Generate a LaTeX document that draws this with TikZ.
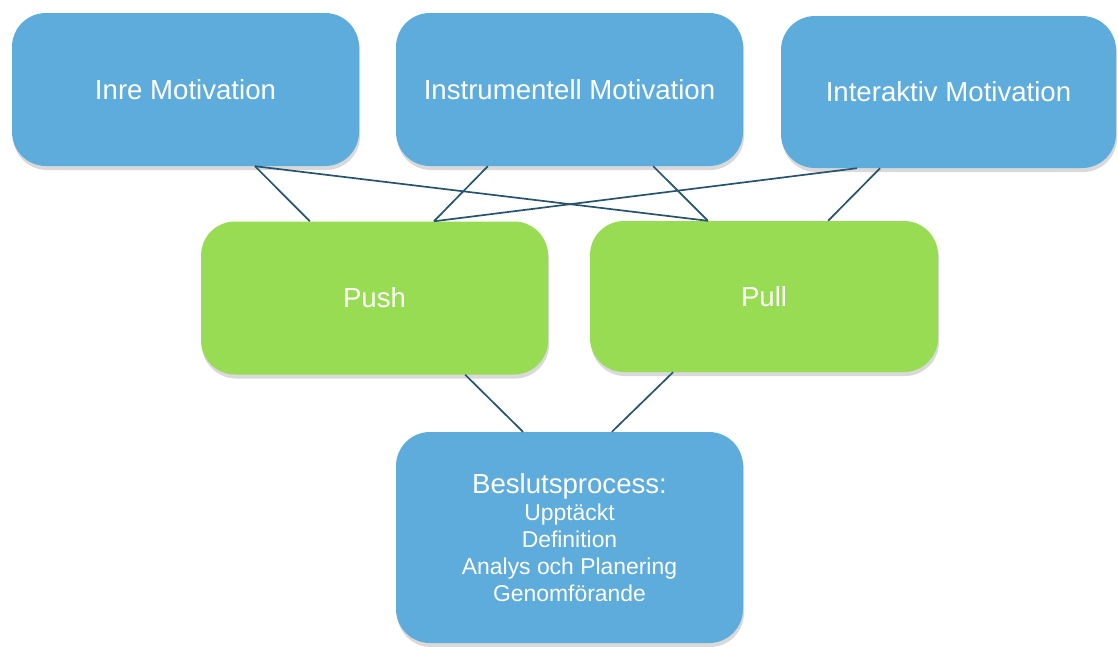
\documentclass[tikz,border=0pt]{standalone}
\usepackage{fontspec}
\setmainfont{Liberation Sans}
\usetikzlibrary{calc,shadows}
\definecolor{boxblue}{RGB}{93,172,220}
\definecolor{boxgreen}{RGB}{152,220,84}
\definecolor{linkcol}{RGB}{38,84,112}
\tikzset{
  mbox/.style={rectangle, rounded corners=34pt, fill=boxblue, text=white,
    minimum width=347pt, minimum height=153pt, inner sep=0pt, align=center,
    font=\fontsize{27.6}{33}\selectfont,
    drop shadow={shadow xshift=1pt, shadow yshift=-4pt, opacity=0.3}},
  gbox/.style={mbox, fill=boxgreen},
  link/.style={draw=linkcol, line width=1.7pt}
}
\begin{document}
\begin{tikzpicture}[x=1pt,y=-1pt]
\useasboundingbox (0,0) rectangle (1118,646);
% motivation
\node [mbox] (inre) at (185.5,89.5) {Inre Motivation};
\node [mbox] (instr) at (569.5,89.5) {Instrumentell Motivation};
\node [mbox, minimum width=335pt, minimum height=152pt] (inter) at (948.5,92) {Interaktiv Motivation};
% push / pull
\node [gbox] (push) at (374.5,298) {Push};
\node [gbox, minimum width=348pt, minimum height=151pt] (pull) at (764,296.5) {Pull};
% beslut
\node [mbox, minimum height=211pt, font=\fontsize{22.9}{27}\selectfont] (beslut) at (569.5,537.5)
  {{\fontsize{27.6}{27}\selectfont Beslutsprocess:}\\Upptäckt\\Definition\\Analys och Planering\\Genomförande};
% links
\draw [link] ($(inre.south west)!0.70!(inre.south east)$) -- ($(push.north west)!0.314!(push.north east)$);
\draw [link] ($(inre.south west)!0.70!(inre.south east)$) -- ($(pull.north west)!0.339!(pull.north east)$);
\draw [link] ($(instr.south west)!0.265!(instr.south east)$) -- ($(push.north west)!0.671!(push.north east)$);
\draw [link] ($(instr.south west)!0.741!(instr.south east)$) -- ($(pull.north west)!0.339!(pull.north east)$);
\draw [link] ($(inter.south west)!0.227!(inter.south east)$) -- ($(push.north west)!0.671!(push.north east)$);
\draw [link] ($(inter.south west)!0.296!(inter.south east)$) -- ($(pull.north west)!0.684!(pull.north east)$);
\draw [link] ($(push.south west)!0.761!(push.south east)$) -- ($(beslut.north west)!0.366!(beslut.north east)$);
\draw [link] ($(pull.south west)!0.239!(pull.south east)$) -- ($(beslut.north west)!0.622!(beslut.north east)$);
\end{tikzpicture}
\end{document}
